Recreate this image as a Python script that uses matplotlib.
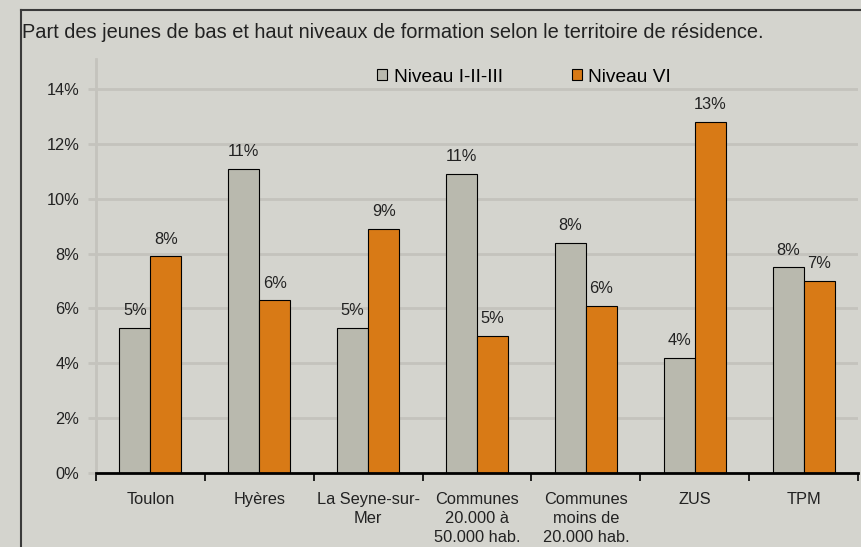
import matplotlib
matplotlib.use("Agg")
import matplotlib.pyplot as plt
import numpy as np
from matplotlib.patches import Rectangle
from matplotlib.lines import Line2D

categories = ["Toulon", "Hyères", "La Seyne-sur-\nMer", "Communes\n20.000 à\n50.000 hab.",
              "Communes\nmoins de\n20.000 hab.", "ZUS", "TPM"]
niveau_123 = [5.3, 11.1, 5.3, 10.9, 8.4, 4.2, 7.5]
niveau_6 = [7.9, 6.3, 8.9, 5.0, 6.1, 12.8, 7.0]
series_names = ["Niveau I-II-III", "Niveau VI"]
yticks = [0, 2, 4, 6, 8, 10, 12, 14]

bg = "#d4d4ce"
grid_c = "#c4c3bd"
gray_c = "#b9b9ae"
orange_c = "#d87a16"
font = "Liberation Sans"
plt.rcParams['font.family'] = [font, 'DejaVu Sans']

fig = plt.figure(figsize=(8.62, 5.47), dpi=100, facecolor=bg)
ax = fig.add_axes([96/862, 1-473/547, (858-96)/862, (473-59)/547])
ax.set_facecolor(bg)

x = np.arange(len(categories))
w = 0.285
b1 = ax.bar(x - w/2, niveau_123, w, color=gray_c, edgecolor="black", linewidth=0.8, zorder=3)
b2 = ax.bar(x + w/2, niveau_6, w, color=orange_c, edgecolor="black", linewidth=0.8, zorder=3)
for bars, vals in ((b1, niveau_123), (b2, niveau_6)):
    for r, v in zip(bars, vals):
        ax.text(r.get_x() + r.get_width()/2, v + 0.35, f"{round(v):d}%", ha="center", va="bottom",
                fontsize=11.8, color="#222222", zorder=4)

ax.set_xlim(-0.5, len(categories) - 0.5)
ax.set_ylim(0, 14 * (473 - 59) / 384)
ax.set_yticks(yticks)
ax.set_yticklabels([f"{t}%" for t in yticks], fontsize=11.8, color="#222222")
ax.yaxis.grid(True, color=grid_c, linewidth=2, zorder=0)
ax.tick_params(axis="y", length=6, color=grid_c, width=2, pad=6)

ax.set_xticks(x)
ax.set_xticklabels(categories, fontsize=11.8, color="#222222", linespacing=1.32)
ax.set_xticks(np.arange(-0.5, len(categories)), minor=True)
ax.tick_params(axis="x", which="major", length=0, pad=14)
ax.tick_params(axis="x", which="minor", length=6, color="black", width=1.2)

for s in ["top", "right"]:
    ax.spines[s].set_visible(False)
ax.spines["left"].set_color(grid_c)
ax.spines["left"].set_linewidth(2)
ax.spines["bottom"].set_color("black")
ax.spines["bottom"].set_linewidth(2)
ax.spines["bottom"].set_zorder(5)

# legend
handles = [Rectangle((0, 0), 1, 1, facecolor=gray_c, edgecolor="black", linewidth=0.8),
           Rectangle((0, 0), 1, 1, facecolor=orange_c, edgecolor="black", linewidth=0.8)]
leg = fig.legend(handles, series_names, loc="center", bbox_to_anchor=(524/862, 1-77/547),
                 ncol=2, frameon=False, fontsize=13.8, handlelength=0.52, handleheight=0.52,
                 handletextpad=0.36, columnspacing=3.6, borderpad=0, borderaxespad=0)

fig.text(22/862, 1-38/547, "Part des jeunes de bas et haut niveaux de formation selon le territoire de résidence.",
         fontsize=14.4, ha="left", va="baseline", color="#222222")

# frame lines
fig.add_artist(Line2D([21/862, 1], [1-10/547, 1-10/547], color="#3a3a3a", linewidth=1.5))
fig.add_artist(Line2D([21/862, 21/862], [0, 1-10/547], color="#3a3a3a", linewidth=1.5))

fig.savefig("out.png", dpi=100, facecolor=bg)
